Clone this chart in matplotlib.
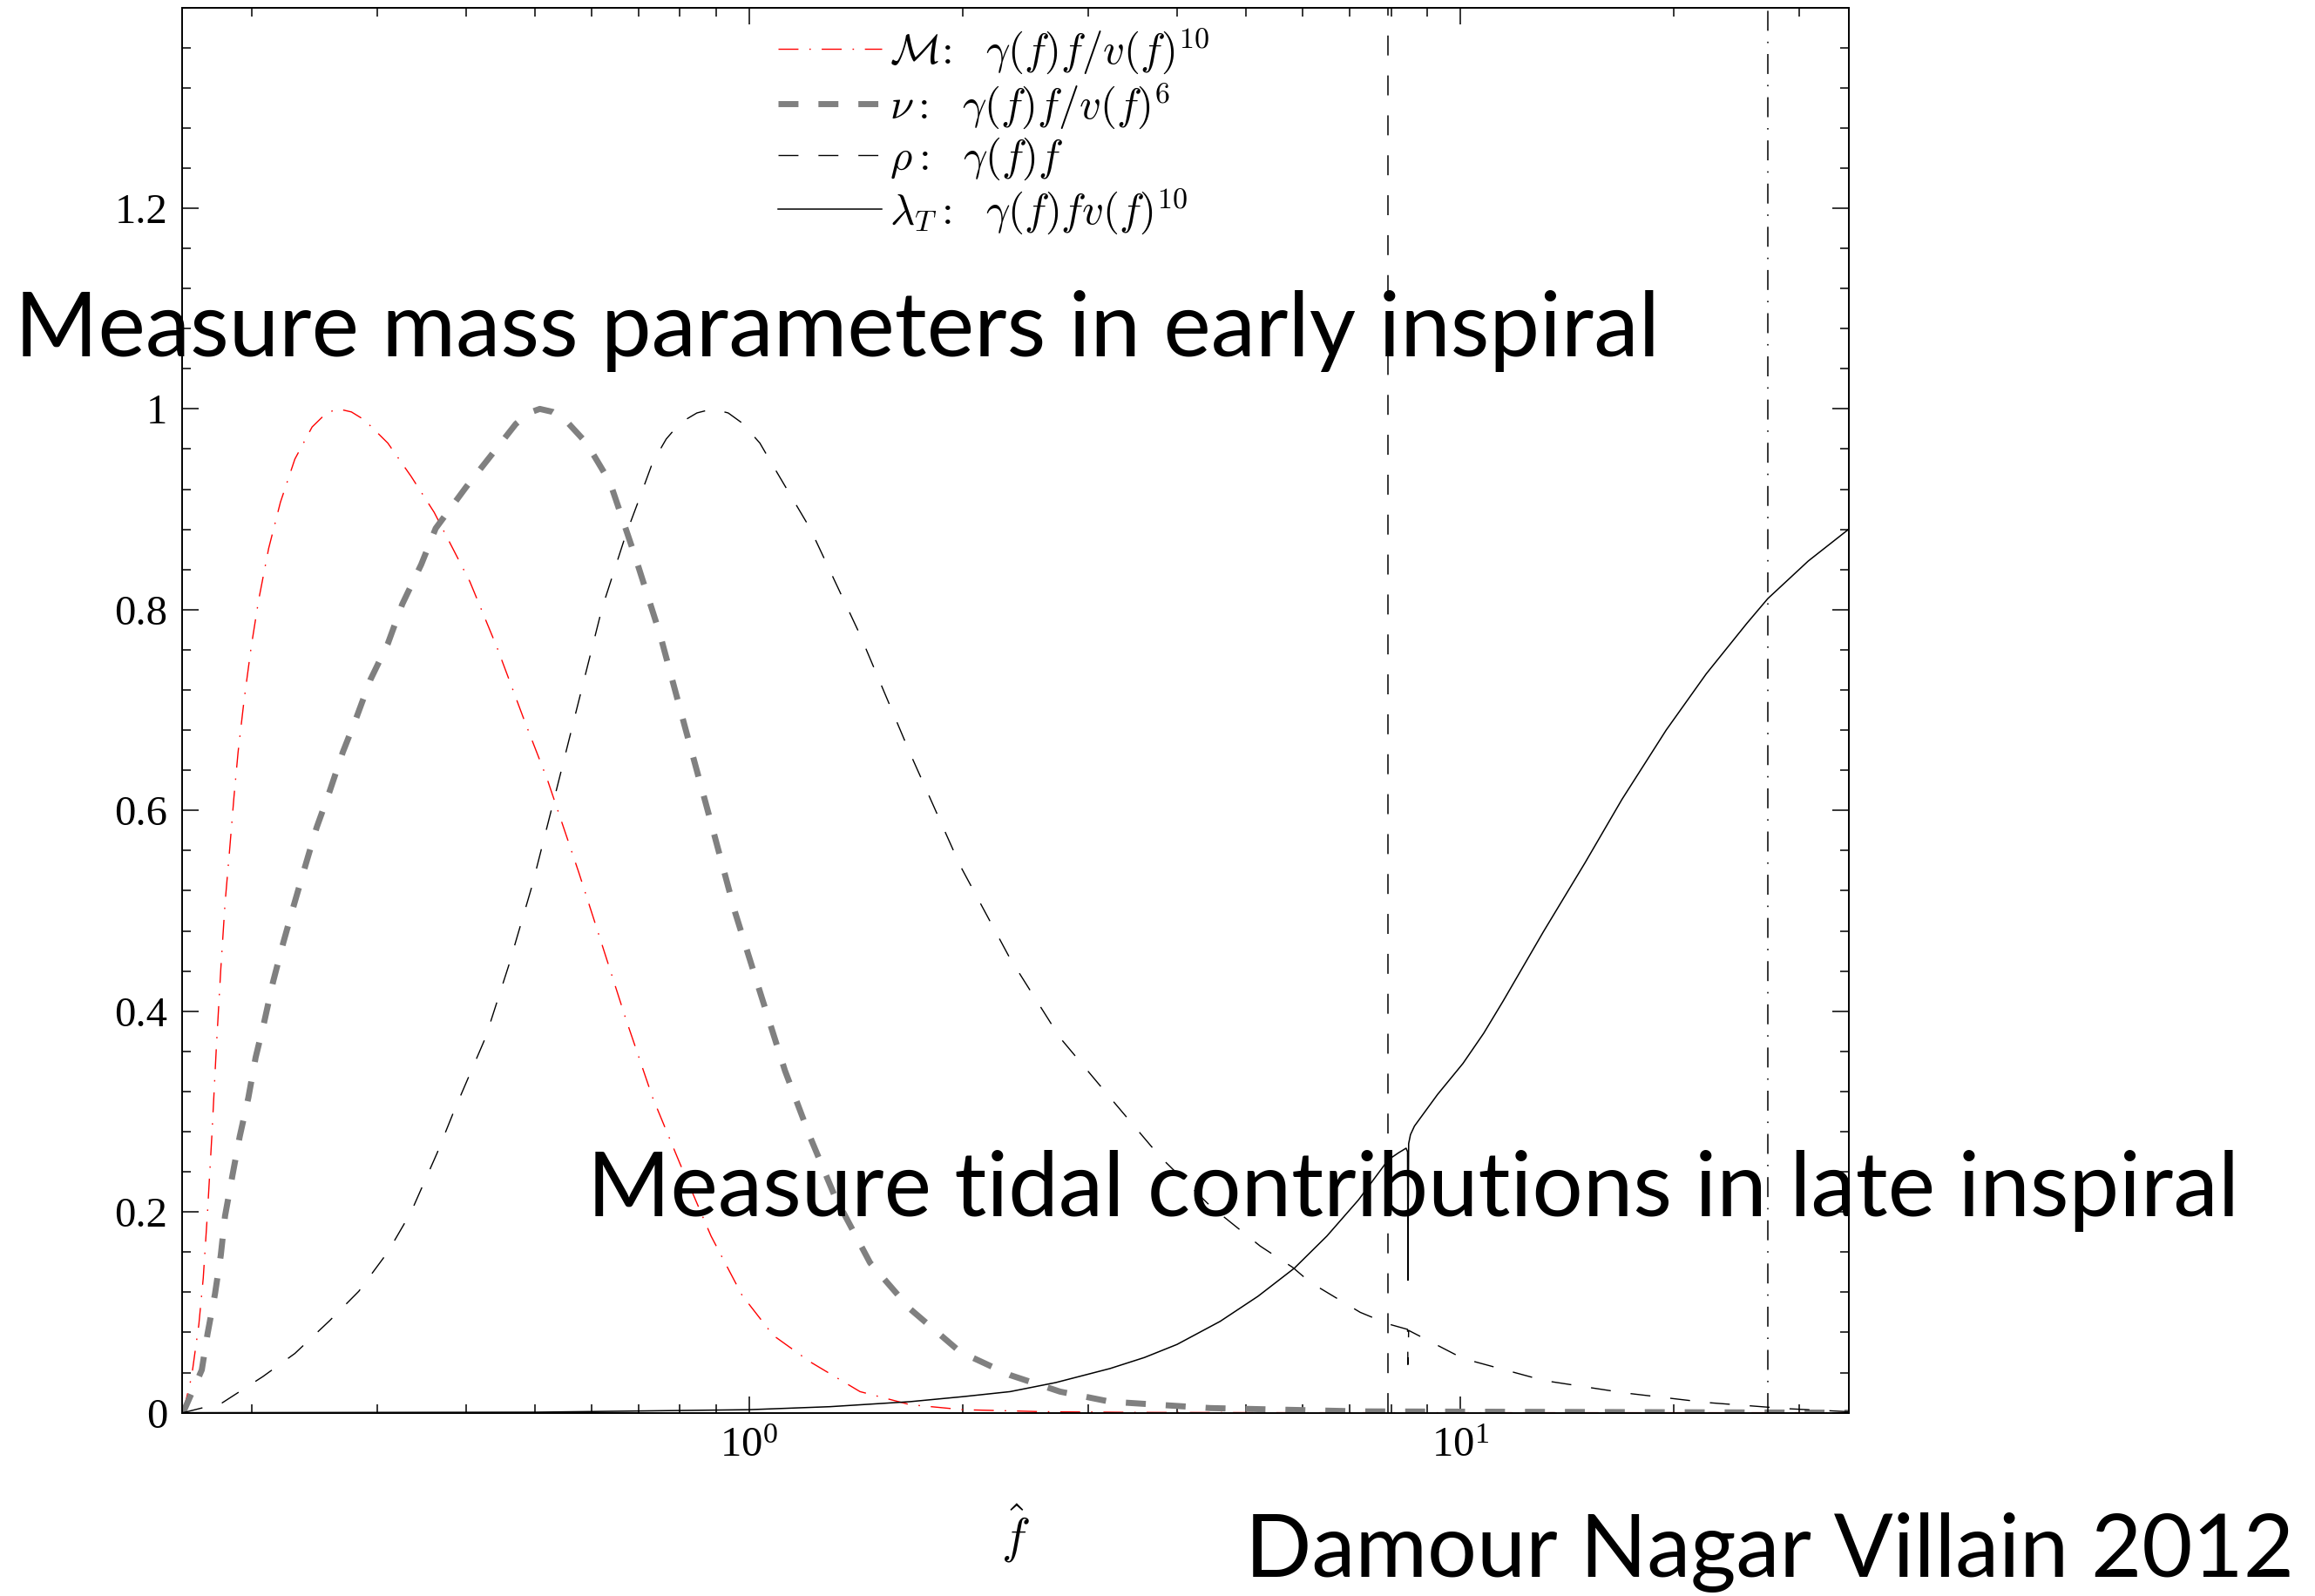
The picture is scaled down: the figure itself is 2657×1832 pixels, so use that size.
import numpy as np
import matplotlib
matplotlib.use("Agg")
import matplotlib.pyplot as plt
from matplotlib.ticker import FixedLocator, FixedFormatter, MultipleLocator, LogLocator, NullFormatter

plt.rcParams['font.family'] = 'Liberation Serif'
plt.rcParams['mathtext.fontset'] = 'cm'
plt.rcParams['lines.scale_dashes'] = False

W, H = 2657, 1832

# chirp mass curve  gamma(f) f / v(f)^10
mc_f = [0.16, 0.1645, 0.1684, 0.1708, 0.1732, 0.1757, 0.1782, 0.1808, 0.1833, 0.186,
        0.1886, 0.1912, 0.195, 0.1995, 0.2043, 0.2111, 0.2193, 0.2298, 0.243, 0.2546,
        0.2646, 0.276, 0.2879, 0.3105, 0.3347, 0.3608, 0.405, 0.4425, 0.483, 0.521,
        0.5765, 0.6216, 0.6707, 0.732, 0.800, 0.8845, 0.978, 1.082, 1.219, 1.433, 1.685,
        2.0, 2.6, 3.5, 6.0, 35.2]
mc_v = [0.0, 0.036, 0.088, 0.134, 0.200, 0.278, 0.3635, 0.442, 0.5075, 0.56,
        0.612, 0.658, 0.7105, 0.763, 0.809, 0.861, 0.907, 0.950, 0.982, 0.996,
        1.0, 0.997, 0.989, 0.966, 0.933, 0.897, 0.828, 0.762, 0.690, 0.630,
        0.538, 0.466, 0.393, 0.314, 0.248, 0.176, 0.117, 0.077, 0.0507, 0.021, 0.008,
        0.003, 0.001, 0.0003, 0.0, 0.0]

# symmetric mass ratio  gamma(f) f / v(f)^6
nu_f = [0.16, 0.170, 0.1732, 0.1774, 0.1808, 0.1833, 0.1877, 0.1922, 0.1977, 0.2024,
        0.2082, 0.2141, 0.2213, 0.2287, 0.2374, 0.2466, 0.2572, 0.2684, 0.280, 0.2934,
        0.3105, 0.3254, 0.346, 0.3626, 0.40, 0.437, 0.47, 0.49, 0.508, 0.53, 0.55,
        0.591, 0.6375, 0.691, 0.750, 0.813, 0.882, 0.956, 1.036, 1.124, 1.219, 1.321,
        1.480, 1.685, 1.982, 2.329, 2.739, 3.22, 4.455, 7.24, 35.2]
nu_v = [0.0, 0.0426, 0.0786, 0.118, 0.157, 0.196, 0.236, 0.275, 0.314, 0.354,
        0.390, 0.429, 0.468, 0.504, 0.5435, 0.583, 0.619, 0.658, 0.691, 0.730,
        0.766, 0.8055, 0.845, 0.881, 0.922, 0.9565, 0.985, 0.996, 1.0, 0.997, 0.99,
        0.966, 0.927, 0.854, 0.775, 0.683, 0.591, 0.4987, 0.4196, 0.3406, 0.2747, 0.2154,
        0.1495, 0.1034, 0.0606, 0.0375, 0.021, 0.011, 0.0046, 0.0013, 0.0]

# SNR  gamma(f) f
rho_f = [0.16, 0.1816, 0.2072, 0.2298, 0.2572, 0.2827, 0.3105, 0.3347, 0.3643, 0.385,
         0.426, 0.4596, 0.4955, 0.5346, 0.5765, 0.6216, 0.6707, 0.705, 0.732, 0.765,
         0.800, 0.845, 0.889, 0.935, 0.978, 1.036, 1.082, 1.219, 1.433, 1.685, 1.982,
         2.329, 2.739, 3.22, 3.787, 4.455, 5.237, 5.82, 6.155, 7.24, 7.93, 8.44, 8.45,
         8.47, 10.1, 13.14, 17.1, 22.2, 28.9, 35.2]
rho_v = [0.0, 0.0098, 0.036, 0.059, 0.0917, 0.121, 0.160, 0.1997, 0.2587, 0.301,
         0.3735, 0.446, 0.525, 0.617, 0.7095, 0.8017, 0.874, 0.915, 0.9466, 0.970,
         0.986, 0.996, 1.0, 0.996, 0.986, 0.966, 0.943, 0.881, 0.775, 0.657, 0.545,
         0.4526, 0.3735, 0.314, 0.255, 0.206, 0.166, 0.1447, 0.130, 0.100, 0.0884, 0.083,
         0.048, 0.082, 0.054, 0.032, 0.0196, 0.0102, 0.004, 0.001]

# tidal polarizability  gamma(f) f v(f)^10
lam_f = [0.16, 0.5, 1.0, 1.3, 1.685, 2.0, 2.33, 2.7, 3.22, 3.6, 4.0, 4.6, 5.2, 5.85,
         6.5, 7.2, 7.93, 8.2, 8.40, 8.44, 8.45, 8.47, 8.52, 8.63, 9.3, 10.1, 10.8, 11.5,
         13.1, 15.0, 16.9, 19.5, 22.2, 25.3, 27.1, 30.9, 35.2]
lam_v = [0.0, 0.0005, 0.003, 0.006, 0.011, 0.016, 0.021, 0.030, 0.044, 0.055, 0.068,
         0.091, 0.116, 0.144, 0.176, 0.212, 0.252, 0.259, 0.2635, 0.260, 0.132, 0.268,
         0.277, 0.2855, 0.317, 0.348, 0.378, 0.41, 0.479, 0.548, 0.611, 0.68, 0.736,
         0.786, 0.811, 0.8485, 0.88]

f_dashed_line = 7.92
f_dashdot_line = 27.1

labels = [r'$\mathcal{M}\!{:}\ \ \gamma(f)f/v(f)^{10}$',
          r'$\nu{:}\ \ \gamma(f)f/v(f)^{6}$',
          r'$\rho{:}\ \ \gamma(f)f$',
          r'$\lambda_T{:}\ \ \gamma(f)fv(f)^{10}$']

y_ticks = [0, 0.2, 0.4, 0.6, 0.8, 1.0, 1.2]
y_tick_labels = ['0', '0.2', '0.4', '0.6', '0.8', '1', '1.2']
x_ticks = [1, 10]
x_tick_labels = [r'$\mathregular{10^{0}}$', r'$\mathregular{10^{1}}$']

fig = plt.figure(figsize=(W / 100, H / 100), dpi=100)
ax = fig.add_axes([209 / W, 1 - 1621.6 / H, (2121.6 - 209) / W, (1621.6 - 8.5) / H])

dashdot = (0, (16.5, 9, 1.2, 9))
dashed = (0, (16.5, 16.5))

ax.plot(mc_f, mc_v, color='red', lw=1.0, linestyle=dashdot, label=labels[0])
ax.plot(nu_f, nu_v, color='#808080', lw=5.0, linestyle=dashed, label=labels[1])
ax.plot(rho_f, rho_v, color='black', lw=1.0, linestyle=dashed, label=labels[2])
ax.plot(lam_f, lam_v, color='black', lw=1.1, linestyle='-', label=labels[3])
ax.axvline(f_dashed_line, color='black', lw=1.1, linestyle=dashed)
ax.axvline(f_dashdot_line, color='black', lw=1.1, linestyle=dashdot)

ax.set_xscale('log')
ax.set_xlim(0.1595, 35.2)
ax.set_ylim(0, 1.4)

ax.xaxis.set_major_locator(FixedLocator(x_ticks))
ax.xaxis.set_major_formatter(FixedFormatter(x_tick_labels))
ax.xaxis.set_minor_locator(LogLocator(base=10, subs=np.arange(2, 10)))
ax.xaxis.set_minor_formatter(NullFormatter())
ax.yaxis.set_major_locator(FixedLocator(y_ticks))
ax.yaxis.set_major_formatter(FixedFormatter(y_tick_labels))
ax.yaxis.set_minor_locator(MultipleLocator(0.04))

ax.tick_params(which='both', direction='in', top=True, right=True, width=1.1)
ax.tick_params(which='major', length=14, labelsize=35, pad=12)
ax.tick_params(which='minor', length=7)
for s in ax.spines.values():
    s.set_linewidth(1.4)

ax.set_xlabel(r'$\hat{f}$', fontsize=40, labelpad=30)

leg = ax.legend(loc='upper left', bbox_to_anchor=(893 / W, 1 - 30 / H),
                bbox_transform=fig.transFigure, frameon=False, fontsize=35,
                handlelength=2.44, handletextpad=0.2, labelspacing=0.12,
                borderpad=0, borderaxespad=0)

renderer = fig.canvas.get_renderer()


def fit_text(x, y, s, width_px, size0):
    t = fig.text(x / W, 1 - y / H, s, fontsize=size0, family='Lato',
                 ha='left', va='baseline', color='black')
    for _ in range(2):
        w = t.get_window_extent(renderer).width
        t.set_fontsize(t.get_fontsize() * width_px / w)
    return t


fit_text(17, 409, 'Measure mass parameters in early inspiral', 1889, 80)
fit_text(674, 1396, 'Measure tidal contributions in late inspiral', 1898, 80)
fit_text(1429, 1810, 'Damour Nagar Villain 2012', 1204, 75)

fig.savefig('out.png', dpi=100)
